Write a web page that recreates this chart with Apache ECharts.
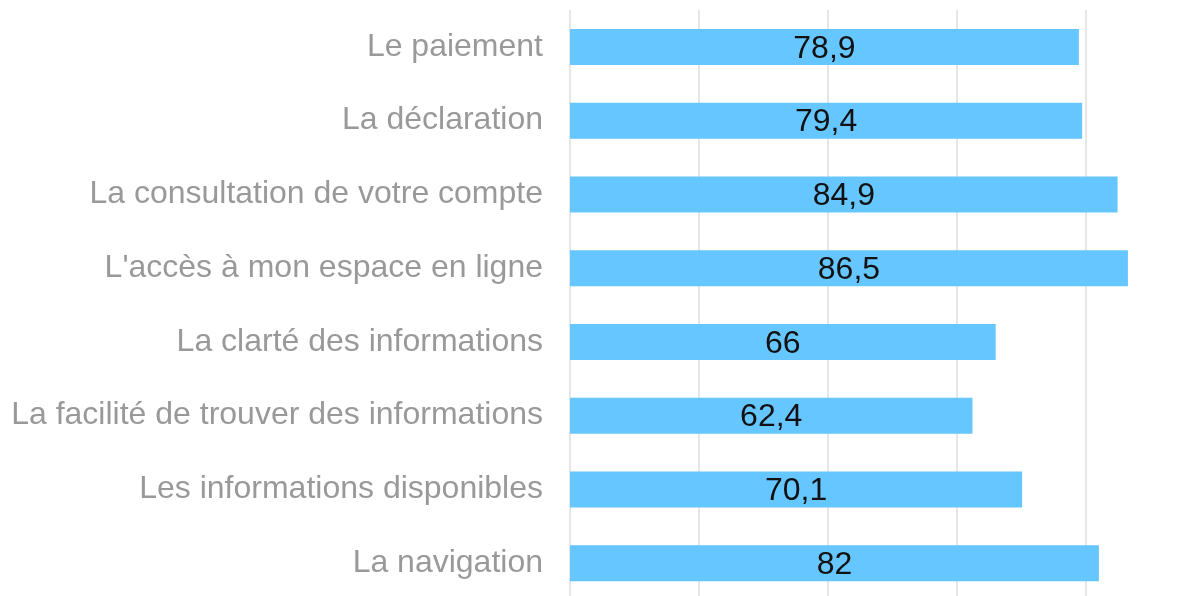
<!DOCTYPE html>
<html><head><meta charset="utf-8">
<script src="https://cdn.jsdelivr.net/npm/echarts@6/dist/echarts.min.js"></script>
<style>html,body{margin:0;padding:0;background:#fff}#c{width:1204px;height:596px}</style>
</head><body><div id="c"></div>
<script>
const categories = ["Le paiement","La déclaration","La consultation de votre compte","L'accès à mon espace en ligne","La clarté des informations","La facilité de trouver des informations","Les informations disponibles","La navigation"];
const values = [78.9,79.4,84.9,86.5,66,62.4,70.1,82];
const chart = echarts.init(document.getElementById('c'), null, {renderer:'canvas'});
chart.setOption({
  animation:false,
  grid:{left:570, top:10, width:645, height:590, containLabel:false, outerBoundsMode:'none'},
  xAxis:{type:'value', min:0, max:100, interval:20,
    axisLabel:{show:false}, axisLine:{show:false}, axisTick:{show:false},
    splitLine:{show:true, lineStyle:{color:'#e6e6e6', width:2}}},
  yAxis:{type:'category', inverse:true, data:categories,
    axisLine:{show:false}, axisTick:{show:false},
    axisLabel:{color:'#999999', fontSize:32, fontFamily:'Liberation Sans, Arial, sans-serif', margin:27, padding:[4,0,0,0]}},
  series:[{type:'bar', data:values, barWidth:36,
    itemStyle:{color:'#66c6ff'},
    label:{show:true, position:'inside', offset:[0,2], color:'#111', fontSize:32, fontFamily:'Liberation Sans, Arial, sans-serif',
      formatter:p=>String(p.value).replace('.',',')}}]
});
</script></body></html>
